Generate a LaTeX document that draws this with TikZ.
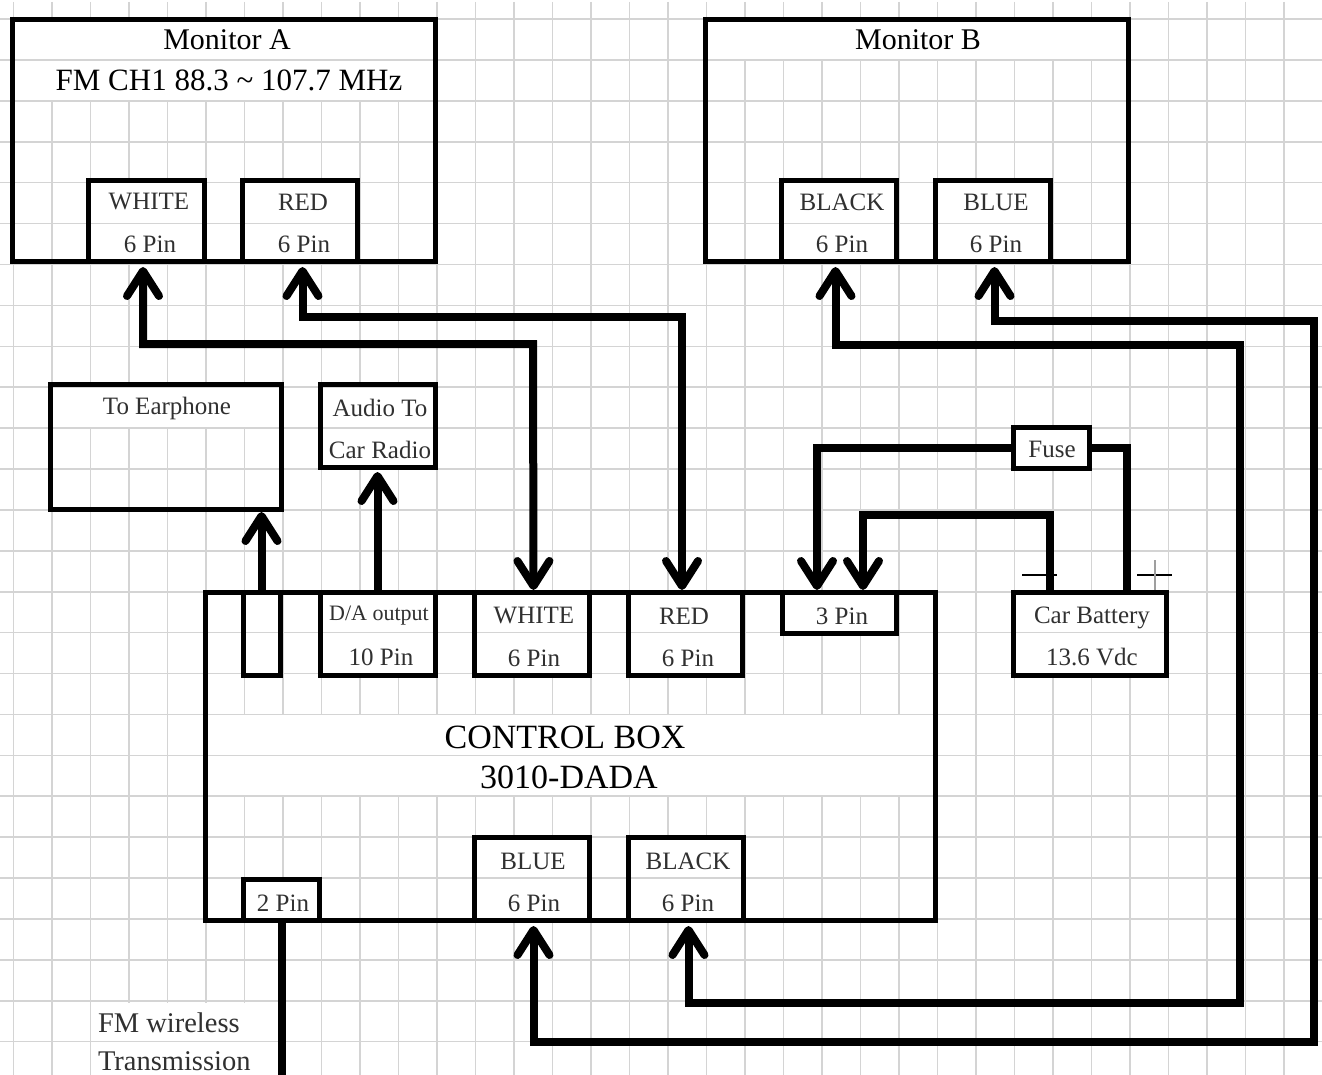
\documentclass[tikz,border=0pt]{standalone}
\usepackage{fontspec}
\setmainfont{Liberation Serif}
\usetikzlibrary{arrows.meta}
\definecolor{gridc}{HTML}{D4D4D4}
\definecolor{smalltxt}{HTML}{303030}
\tikzset{
  x=1pt,y=-1pt,
  gridline/.style={draw=gridc,line width=1.6pt},
  boxn/.style={rectangle,draw=black,line width=5pt,inner sep=0pt,outer sep=0pt},
  lbl/.style={inner sep=0pt,outer sep=0pt,anchor=center,text=smalltxt,font=\fontsize{25}{25}\selectfont},
  lblbig/.style={lbl,text=black,font=\fontsize{30}{30}\selectfont},
  lblctl/.style={lbl,text=black,font=\fontsize{34}{34}\selectfont},
  lblsm/.style={lbl,font=\fontsize{22}{22}\selectfont},
  lblfm/.style={lbl,font=\fontsize{28.5}{28.5}\selectfont,anchor=west},
  wire/.style={draw=black,line width=8pt,line join=miter},
  tipb/.tip={Straight Barb[length=25pt,width=32pt,line width=8pt,round]},
  arrowto/.style={wire,-{tipb}},
  arrowboth/.style={wire,{tipb}-{tipb}},
  signline/.style={draw=black,line width=1.5pt},
}
% name, x1, y1, x2, y2
\newcommand{\bxnode}[5]{\node[boxn,minimum width={(#4-#2)*1pt},minimum height={(#5-#3)*1pt}] (#1) at ({(#2+#4)/2},{(#3+#5)/2}) {};}
\begin{document}
\begin{tikzpicture}
\useasboundingbox (0,0) rectangle (1322,1075);
\fill[white] (0,0) rectangle (1322,1075);
% vertical grid lines
\foreach \k in {0,...,33} {\draw[gridline] ({13.5+38.5*\k},2) -- ({13.5+38.5*\k},1075);}
% white text areas that hide the vertical grid lines
\foreach \xa/\ya/\xb/\yb in {
  11/19/436/100, 705/19/1128/60, 50/384/282/427, 320/384/436/467,
  205/715/936/795, 88/180/205/262, 242/180/358/262, 781/180/897/262, 935/180/1051/262,
  243/592/281/676, 320/592/436/676, 473/592/590/676, 627/592/743/676, 781/592/897/633,
  1012/592/1167/676, 1012/426/1090/468, 473/837/590/921, 627/837/743/921, 242/878/320/921,
  92/1003/280/1075}
  {\fill[white] (\xa,\ya) rectangle (\xb,\yb);}
% horizontal grid lines
\foreach \k in {0,...,24} {\draw[gridline] (0,{60+40.9*\k}) -- (1322,{60+40.9*\k});}
\draw[gridline] (0,19) -- (1322,19);
% boxes
\bxnode{monA}{12}{20}{435}{262}
\bxnode{monB}{705}{20}{1128}{262}
\bxnode{wA}{88}{181}{204}{262}
\bxnode{rA}{242}{181}{357}{262}
\bxnode{kB}{781}{181}{896}{262}
\bxnode{uB}{935}{181}{1050}{262}
\bxnode{ear}{50}{384}{281}{509}
\bxnode{aud}{320}{384}{435}{467}
\bxnode{ctl}{205}{592}{935}{920}
\bxnode{earP}{243}{592}{280}{675}
\bxnode{daP}{320}{592}{435}{675}
\bxnode{wC}{474}{592}{589}{675}
\bxnode{rC}{628}{592}{742}{675}
\bxnode{pin3}{782}{592}{896}{633}
\bxnode{bat}{1013}{592}{1166}{675}
\bxnode{fuse}{1013}{427}{1089}{468}
\bxnode{uC}{474}{837}{589}{920}
\bxnode{kC}{628}{837}{743}{920}
\bxnode{pin2}{243}{879}{319}{920}
% labels
\node[lblbig] (tMonA) at (227,40) {Monitor A};
\node[lblbig,font=\fontsize{31}{31}\selectfont] (tFM) at (229,80) {FM CH1 88.3 \textasciitilde{} 107.7 MHz};
\node[lblbig] (tMonB) at (918,40) {Monitor B};
\node[lbl] (tw1) at (149,202) {WHITE};
\node[lbl] (tw2) at (150,244) {6 Pin};
\node[lbl] (tr1) at (303,202) {RED};
\node[lbl] (tr2) at (304,244) {6 Pin};
\node[lbl] (tk1) at (842,202) {BLACK};
\node[lbl] (tk2) at (842,244) {6 Pin};
\node[lbl] (tu1) at (996,202) {BLUE};
\node[lbl] (tu2) at (996,244) {6 Pin};
\node[lbl] (tear) at (167,408) {To Earphone};
\node[lbl] (ta1) at (380,408) {Audio To};
\node[lbl] (ta2) at (380,450) {Car Radio};
\node[lbl] (tfuse) at (1052,449) {Fuse};
\node[lblsm] (tda) at (379,616) {D/A output};
\node[lbl] (tda2) at (381,657) {10 Pin};
\node[lbl] (tcw1) at (534,616) {WHITE};
\node[lbl] (tcw2) at (534,658) {6 Pin};
\node[lbl] (tcr1) at (684,616) {RED};
\node[lbl] (tcr2) at (688,658) {6 Pin};
\node[lbl] (t3p) at (842,616) {3 Pin};
\node[lbl] (tb1) at (1092,618) {Car Battery};
\node[lbl] (tb2) at (1092,657) {13.6 Vdc};
\node[lblctl] (tc1) at (565,737) {CONTROL BOX};
\node[lblctl] (tc2) at (569,777) {3010-DADA};
\node[lbl] (tcu1) at (533,861) {BLUE};
\node[lbl] (tcu2) at (534,903) {6 Pin};
\node[lbl] (tck1) at (688,861) {BLACK};
\node[lbl] (tck2) at (688,903) {6 Pin};
\node[lbl] (t2p) at (283,903) {2 Pin};
\node[lblfm] (tfm1) at (98,1023) {FM wireless};
\node[lblfm] (tfm2) at (98,1061) {Transmission};
% battery polarity marks
\coordinate (minusL) at (1022,575);
\coordinate (minusR) at (1057,575);
\coordinate (plusL) at (1137,575);
\coordinate (plusR) at (1172,575);
\coordinate (plusT) at (1155,560);
\coordinate (plusB) at (1155,590);
\draw[signline] (minusL) -- (minusR);
\draw[signline] (plusL) -- (plusR);
\draw[signline,draw=gridc!75!black] (plusT) -- (plusB);
% connectors
\draw[arrowboth] ([xshift=-3pt,yshift=-5pt]wA.south) |- (533,344) -- ([xshift=2pt,yshift=2pt]wC.north);
\draw[arrowboth] ([xshift=3pt,yshift=-5pt]rA.south) |- (682,317) -- ([xshift=-3pt,yshift=2pt]rC.north);
\draw[arrowboth] ([xshift=-3pt,yshift=-5pt]kB.south) |- (1240,345) -- (1240,1003) -| ([xshift=3pt,yshift=-6pt]kC.south);
\draw[arrowboth] ([xshift=2pt,yshift=-5pt]uB.south) |- (1314,321) -- (1314,1042) -| ([xshift=2pt,yshift=-6pt]uC.south);
\draw[arrowto] ([yshift=2pt]earP.north) -- ([yshift=-3pt]ear.south -| earP.north);
\draw[arrowto] ([xshift=0pt,yshift=2pt]daP.north) -- ([xshift=0pt,yshift=-5pt]daP.north |- aud.south);
\draw[arrowto] (fuse.west) -| ([xshift=-22pt,yshift=2pt]pin3.north);
\draw[arrowto] ([xshift=-40pt,yshift=2pt]bat.north) |- (863,515) -- ([xshift=24pt,yshift=2pt]pin3.north);
\draw[wire] (fuse.east) -| ([xshift=37pt]bat.north);
\coordinate (pinEnd) at (282,1075);
\draw[wire] (pin2.south -| pinEnd) -- (pinEnd);
\end{tikzpicture}
\end{document}
